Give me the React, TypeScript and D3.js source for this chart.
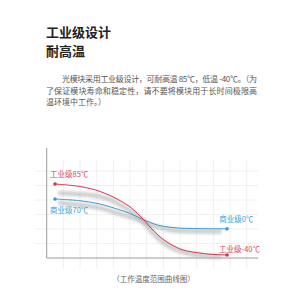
import React from "react";
import * as d3 from "d3";

const titleLines = ["工业级设计", "耐高温"];
const paragraphLines = [
  "光模块采用工业级设计，可耐高温 85℃，低温 -40℃。（为",
  "了保证模块寿命和稳定性，请不要将模块用于长时间极限高",
  "温环境中工作。）",
];
const caption = "（工作温度范围曲线图）";

// x in grid units (0..12), y in grid units (0..7)
const redX = [0.5, 2.0, 3.2, 4.22, 5.0, 5.84, 6.2, 6.8, 7.4, 8.18, 9.02, 9.8, 10.82];
const redY = [5.1, 4.93, 4.59, 4.07, 3.52, 2.62, 2.14, 1.45, 0.97, 0.55, 0.37, 0.26, 0.21];
const blueX = [0.5, 2.0, 3.2, 4.22, 5.0, 5.84, 6.62, 7.4, 8.18, 10.82];
const blueY = [4.07, 3.95, 3.72, 3.38, 3.07, 2.62, 2.28, 2.12, 2.05, 2.01];
const shadowAX = [0.8, 3.2, 4.22, 5.18, 5.84, 6.2, 6.8, 7.4, 8.18, 9.2, 10.4];
const shadowAY = [4.46, 4.23, 3.79, 3.1, 2.48, 1.93, 1.24, 0.76, 0.41, 0.17, 0.08];
const shadowBX = [0.8, 3.2, 4.22, 5.18, 5.84, 6.62, 7.4, 8.18, 10.4];
const shadowBY = [3.79, 3.45, 3.1, 2.76, 2.48, 2.14, 1.93, 1.86, 1.83];

const labels = [
  { text: "工业级85℃", x: 0.2, y: 5.6, color: "#d8475c", anchor: "start" },
  { text: "商业级70℃", x: 0.2, y: 3.1, color: "#3d9fd6", anchor: "start" },
  { text: "商业级0℃", x: 12.4, y: 2.5, color: "#3d9fd6", anchor: "end" },
  { text: "工业级-40℃", x: 12.8, y: 0.42, color: "#d8475c", anchor: "end" },
];

const gridXs = [1, 2, 3, 4, 5, 6, 7, 8, 9, 10, 11, 12];
const gridYs = [1, 2, 3, 4, 5, 6];

const FONT = "'Noto Sans CJK SC', 'Noto Sans', sans-serif";

export default function App() {
  const x = d3.scaleLinear().domain([0, 12]).range([46.7, 246.7]);
  const y = d3.scaleLinear().domain([0, 7]).range([258, 156.5]);
  const line = d3
    .line<[number, number]>()
    .x((d) => x(d[0]))
    .y((d) => y(d[1]))
    .curve(d3.curveCatmullRom.alpha(0.5));
  const zip = (a: number[], b: number[]) => a.map((v, i) => [v, b[i]] as [number, number]);
  const red = zip(redX, redY);
  const blue = zip(blueX, blueY);
  const shA = zip(shadowAX, shadowAY);
  const shB = zip(shadowBX, shadowBY);
  const redC = "#d6344b";
  const blueC = "#3a9bd5";

  return (
    <svg
      width={300}
      height={300}
      style={{ position: "absolute", left: 0, top: 0, background: "#fff" }}
      fontFamily={FONT}
    >
      <defs>
        <filter id="blur" x="-10%" y="-50%" width="120%" height="200%">
          <feGaussianBlur stdDeviation="1.4" />
        </filter>
      </defs>
      {titleLines.map((t, i) => (
        <text key={t} x={46} y={36.5 + i * 19} fontSize={13} fontWeight="bold" fill="#222">
          {t}
        </text>
      ))}
      {paragraphLines.map((t, i) => (
        <text
          key={i}
          x={i === 0 ? 62 : 46}
          y={82 + i * 11.7}
          fontSize={8}
          fill="#555"
          {...(i < 2 ? { textLength: i === 0 ? 195 : 211, lengthAdjust: "spacing" } : {})}
        >
          {t}
        </text>
      ))}
      {/* grid */}
      {gridYs.map((g) => (
        <line key={"h" + g} x1={35} x2={258} y1={y(g)} y2={y(g)} stroke="#ececec" strokeWidth={0.8} />
      ))}
      {gridXs.map((g) => (
        <line key={"v" + g} x1={x(g)} x2={x(g)} y1={160} y2={269} stroke="#ececec" strokeWidth={0.8} />
      ))}
      {/* axes */}
      <line x1={x(0)} x2={x(0)} y1={148} y2={y(0)} stroke="#9a9a9a" strokeWidth={1} />
      <line x1={x(0)} x2={258} y1={y(0)} y2={y(0)} stroke="#9a9a9a" strokeWidth={1.2} />
      {/* shadows */}
      <path d={line(shA) || ""} fill="none" stroke="#b8b8b8" strokeWidth={4.5} opacity={0.7} filter="url(#blur)" strokeLinecap="round" />
      <path d={line(shB) || ""} fill="none" stroke="#b8b8b8" strokeWidth={4.5} opacity={0.7} filter="url(#blur)" strokeLinecap="round" />
      {/* lines */}
      <path d={line(blue) || ""} fill="none" stroke={blueC} strokeWidth={1} />
      <path d={line(red) || ""} fill="none" stroke={redC} strokeWidth={1} />
      {[blue[0], blue[blue.length - 1]].map((p, i) => (
        <circle key={"b" + i} cx={x(p[0])} cy={y(p[1])} r={1.8} fill={blueC} />
      ))}
      {[red[0], red[red.length - 1]].map((p, i) => (
        <circle key={"r" + i} cx={x(p[0])} cy={y(p[1])} r={1.8} fill={redC} />
      ))}
      {labels.map((l) => (
        <text key={l.text} x={x(l.x)} y={y(l.y)} fontSize={7.5} fill={l.color} textAnchor={l.anchor as any}>
          {l.text}
        </text>
      ))}
      <text x={153.5} y={282} fontSize={7.5} fill="#666" textAnchor="middle">
        {caption}
      </text>
    </svg>
  );
}
